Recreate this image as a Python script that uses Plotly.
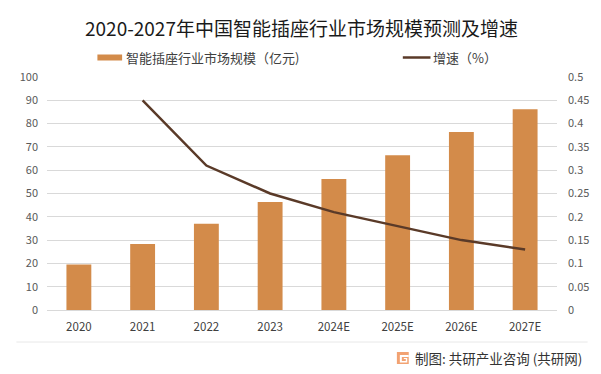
import plotly.graph_objects as go

years = ["2020", "2021", "2022", "2023", "2024E", "2025E", "2026E", "2027E"]
market_size = [19.5, 28.3, 37.0, 46.4, 56.2, 66.4, 76.4, 86.2]
growth_years = ["2021", "2022", "2023", "2024E", "2025E", "2026E", "2027E"]
growth_rate = [0.45, 0.31, 0.25, 0.21, 0.18, 0.15, 0.13]
left_ticks = [0, 10, 20, 30, 40, 50, 60, 70, 80, 90, 100]
right_ticks = [0, 0.05, 0.1, 0.15, 0.2, 0.25, 0.3, 0.35, 0.4, 0.45, 0.5]
right_tick_text = ["0", "0.05", "0.1", "0.15", "0.2", "0.25", "0.3", "0.35", "0.4", "0.45", "0.5"]

FONT = "Noto Sans CJK SC"
BAR_COLOR = "#D38B4A"
LINE_COLOR = "#5A3A28"

# page layout (page has an 8px body margin)
PL, PR, PT, PB = 43, 559, 77, 310
OFF = 8
W, H = 601 - OFF, 374 - OFF


def px(x):
    return (x - PL) / (PR - PL)


def py(y):
    return (PB - y) / (PB - PT)


fig = go.Figure()
fig.add_trace(go.Bar(
    x=years, y=market_size, name="智能插座行业市场规模（亿元)",
    marker=dict(color=BAR_COLOR, line=dict(width=0)),
    yaxis="y", showlegend=False,
))
fig.add_trace(go.Scatter(
    x=growth_years, y=growth_rate, name="增速（%）", mode="lines",
    line=dict(color=LINE_COLOR, width=2.5), yaxis="y2", showlegend=False,
))

fig.update_layout(
    width=W, height=H,
    margin=dict(l=PL - OFF, r=W - (PR - OFF), t=PT - OFF, b=H - (PB - OFF), pad=0),
    paper_bgcolor="white", plot_bgcolor="white",
    font=dict(family=FONT, color="#595959", size=11),
    bargap=0.61,
    xaxis=dict(
        categoryorder="array", categoryarray=years,
        showgrid=False, showline=True, linecolor="#D9D9D9", linewidth=1,
        ticks="", tickfont=dict(size=11.5, color="#404040"), ticklabelstandoff=6,
    ),
    yaxis=dict(
        range=[0, 100], tickvals=left_ticks, showgrid=True, gridcolor="#D9D9D9",
        gridwidth=1, zeroline=False, showline=False, ticks="",
        tickfont=dict(size=11, color="#595959"), ticklabelstandoff=8,
    ),
    yaxis2=dict(
        range=[0, 0.5], tickvals=right_ticks, ticktext=right_tick_text,
        overlaying="y", side="right", showgrid=False, zeroline=False,
        showline=False, ticks="", tickfont=dict(size=11, color="#595959"),
        ticklabelstandoff=10,
    ),
)

# Title
fig.add_annotation(xref="paper", yref="paper", x=px(300), y=py(27),
                   text="2020-2027年中国智能插座行业市场规模预测及增速", showarrow=False,
                   xanchor="center", yanchor="middle",
                   font=dict(family=FONT, size=19, color="#1a1a1a"))

# Legend (drawn manually to match positions)
fig.add_shape(type="line", xref="paper", yref="paper",
              x0=px(94), x1=px(119), y0=py(57.5), y1=py(57.5),
              line=dict(color=BAR_COLOR, width=6))
fig.add_annotation(xref="paper", yref="paper", x=px(121), y=py(58),
                   text="智能插座行业市场规模（亿元)", showarrow=False, xanchor="left", yanchor="middle",
                   font=dict(size=13, color="#404040"))
fig.add_shape(type="line", xref="paper", yref="paper",
              x0=px(403), x1=px(431), y0=py(57.5), y1=py(57.5),
              line=dict(color=LINE_COLOR, width=2.5))
fig.add_annotation(xref="paper", yref="paper", x=px(432), y=py(58),
                   text="增速（%）", showarrow=False, xanchor="left", yanchor="middle",
                   font=dict(size=13, color="#404040"))

# Bottom separator and source
fig.add_shape(type="line", xref="paper", yref="paper",
              x0=px(12), x1=px(590), y0=py(342), y1=py(342),
              line=dict(color="#E8E8E8", width=1))
fig.add_shape(type="rect", xref="paper", yref="paper",
              x0=px(397), x1=px(409), y0=py(352), y1=py(364),
              fillcolor="#F2A272", line=dict(width=0))
fig.add_shape(type="path", xref="paper", yref="paper",
              path=f"M {px(400)},{py(355)} L {px(409)},{py(355)} L {px(409)},{py(357)} "
                   f"L {px(402)},{py(357)} L {px(402)},{py(361)} L {px(406)},{py(361)} "
                   f"L {px(406)},{py(359)} L {px(404)},{py(359)} L {px(404)},{py(358)} "
                   f"L {px(407.5)},{py(358)} L {px(407.5)},{py(362.5)} L {px(400)},{py(362.5)} Z",
              fillcolor="white", line=dict(width=0))
fig.add_annotation(xref="paper", yref="paper", x=px(586), y=py(358),
                   text="制图: 共研产业咨询 (共研网)", showarrow=False, xanchor="right", yanchor="middle",
                   font=dict(size=13.5, color="#333333"))

fig.write_html("out.html")
